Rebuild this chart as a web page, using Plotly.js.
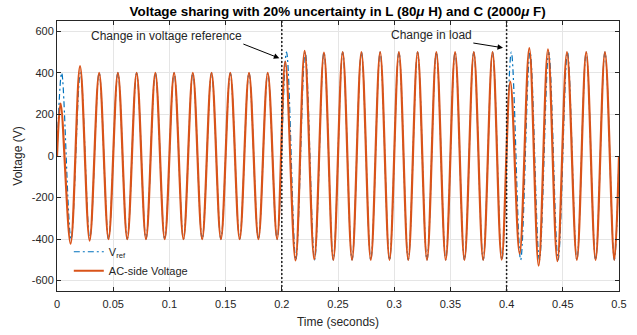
<!DOCTYPE html>
<html>
<head>
<meta charset="utf-8">
<script src="https://cdn.plot.ly/plotly-3.0.1.min.js"></script>
<style>html,body{margin:0;padding:0;background:#fff;}#chart{width:637px;height:335px;}</style>
</head>
<body>
<div id="chart"></div>
<script>
// Vref: extremum times (s) and values (V)
const vrefTime = [0, 0.00417, 0.0125, 0.02083, 0.02917, 0.0375, 0.04583, 0.05417, 0.0625, 0.07083, 0.07917,
  0.0875, 0.09583, 0.10417, 0.1125, 0.12083, 0.12917, 0.1375, 0.14583, 0.15417, 0.1625, 0.17083, 0.17917,
  0.1875, 0.19583, 0.20417, 0.2125, 0.22083, 0.22917, 0.2375, 0.24583, 0.25417, 0.2625, 0.27083, 0.27917,
  0.2875, 0.29583, 0.30417, 0.3125, 0.32083, 0.32917, 0.3375, 0.34583, 0.35417, 0.3625, 0.37083, 0.37917,
  0.3875, 0.39583, 0.40417, 0.4125, 0.42083, 0.42917, 0.4375, 0.44583, 0.45417, 0.4625, 0.47083, 0.47917,
  0.4875, 0.49583, 0.5];
const vrefValue = [0, 400, -400, 400, -400, 400, -400, 400, -400, 400, -400,
  400, -400, 400, -400, 400, -400, 400, -400, 400, -400, 400, -400,
  400, -400, 500, -500, 500, -500, 500, -500, 500, -500, 500, -500,
  500, -500, 500, -500, 500, -500, 500, -500, 500, -500, 500, -500,
  500, -500, 500, -500, 500, -500, 500, -500, 500, -500, 500, -500,
  500, -500, 0];

// AC-side voltage: extremum times (s) and values (V)
const acTime = [0, 0.0032, 0.0121, 0.0205, 0.029, 0.0375, 0.04583, 0.05417, 0.0625, 0.07083, 0.07917,
  0.0875, 0.09583, 0.10417, 0.1125, 0.12083, 0.12917, 0.1375, 0.14583, 0.15417, 0.1625, 0.17083, 0.17917,
  0.1875, 0.19583, 0.2031, 0.2122, 0.2203, 0.2289, 0.2375, 0.24583, 0.25417, 0.2625, 0.27083, 0.27917,
  0.2875, 0.29583, 0.30417, 0.3125, 0.32083, 0.32917, 0.3375, 0.34583, 0.35417, 0.3625, 0.37083, 0.37917,
  0.3875, 0.3956, 0.4033, 0.4116, 0.4202, 0.4285, 0.4368, 0.4452, 0.4537, 0.4625, 0.47083, 0.47917,
  0.4875, 0.49583, 0.5];
const acValue = [0, 252, -422, 433, -407, 400, -400, 400, -400, 400, -400,
  400, -400, 400, -400, 400, -400, 400, -400, 400, -400, 400, -400,
  400, -400, 455, -503, 506, -497, 498, -500, 500, -500, 500, -500,
  500, -500, 500, -500, 500, -500, 500, -500, 500, -500, 500, -500,
  500, -499, 358, -470, 519, -528, 514, -506, 500, -500, 500, -500,
  500, -500, 0];

const seriesNames = ['V<sub>ref</sub>', 'AC-side Voltage'];
const eventTimes = [0.2, 0.4];
const noteTexts = ['Change in voltage reference', 'Change in load'];
const noteArrowTail = [[0.1658, 539], [0.3704, 544]];
const noteArrowHead = [[0.1978, 471], [0.3968, 521]];
const xTickVals = [0, 0.05, 0.1, 0.15, 0.2, 0.25, 0.3, 0.35, 0.4, 0.45, 0.5];
const xTickText = ['0', '0.05', '0.1', '0.15', '0.2', '0.25', '0.3', '0.35', '0.4', '0.45', '0.5'];
const yTickVals = [-600, -400, -200, 0, 200, 400, 600];
const yTickText = ['-600', '-400', '-200', '0', '200', '400', '600'];

const FONT = 'Liberation Sans, Arial, Helvetica, sans-serif';
const TXT = '#262626';

const traces = [
  {x: vrefTime, y: vrefValue, name: seriesNames[0], mode: 'lines', type: 'scatter',
   line: {color: '#0072BD', width: 1.2, dash: '6px,3px,2px,3px', shape: 'spline', smoothing: 1}},
  {x: acTime, y: acValue, name: seriesNames[1], mode: 'lines', type: 'scatter',
   line: {color: '#D95319', width: 2.2, shape: 'spline', smoothing: 1}}
];

const shapes = eventTimes.map(t => ({
  type: 'line', xref: 'x', yref: 'paper', x0: t, x1: t, y0: 0, y1: 1,
  line: {color: '#222', width: 1.5, dash: '2px,2px'}
}));

const annotations = noteTexts.map((txt, i) => ({
  x: noteArrowHead[i][0], y: noteArrowHead[i][1], xref: 'x', yref: 'y',
  ax: noteArrowTail[i][0], ay: noteArrowTail[i][1], axref: 'x', ayref: 'y',
  xanchor: 'right', yanchor: 'bottom',
  text: txt, font: {family: FONT, size: 12, color: TXT},
  showarrow: true, arrowhead: 2, arrowsize: 1.1, arrowwidth: 1, arrowcolor: '#000', borderpad: 0
}));

const axisCommon = {
  showline: true, linecolor: '#262626', linewidth: 1, mirror: 'ticks',
  ticks: 'inside', ticklen: 4, tickwidth: 1, tickcolor: '#262626',
  showgrid: true, gridcolor: '#e5e5e5', gridwidth: 1, zeroline: false,
  tickfont: {family: FONT, size: 11, color: TXT}
};

const layout = {
  width: 637, height: 335,
  margin: {l: 57, r: 18, t: 21, b: 44, pad: 0},
  paper_bgcolor: '#fff', plot_bgcolor: '#fff',
  font: {family: FONT, color: TXT},
  title: {text: 'Voltage sharing with 20% uncertainty in L (80<i>μ</i> H) and C (2000<i>μ</i> F)',
    font: {family: FONT, size: 13.4, color: '#000', weight: 'bold'},
    x: 0.53, xanchor: 'center', y: 0.965, yanchor: 'middle'},
  xaxis: Object.assign({}, axisCommon, {range: [0, 0.5], tickmode: 'array', tickvals: xTickVals, ticktext: xTickText,
    ticklabelstandoff: 3,
    title: {text: 'Time (seconds)', font: {family: FONT, size: 12, color: TXT}, standoff: 8}}),
  yaxis: Object.assign({}, axisCommon, {range: [-650, 650], tickmode: 'array', tickvals: yTickVals, ticktext: yTickText,
    title: {text: 'Voltage (V)', font: {family: FONT, size: 12, color: TXT}, standoff: 6}}),
  showlegend: true,
  legend: {x: 0.021, y: 0.199, xanchor: 'left', yanchor: 'top', bgcolor: 'rgba(0,0,0,0)',
    font: {family: FONT, size: 11, color: TXT}, tracegroupgap: 0},
  shapes: shapes,
  annotations: annotations
};

Plotly.newPlot('chart', traces, layout, {displayModeBar: false, staticPlot: true});
</script>
</body>
</html>
